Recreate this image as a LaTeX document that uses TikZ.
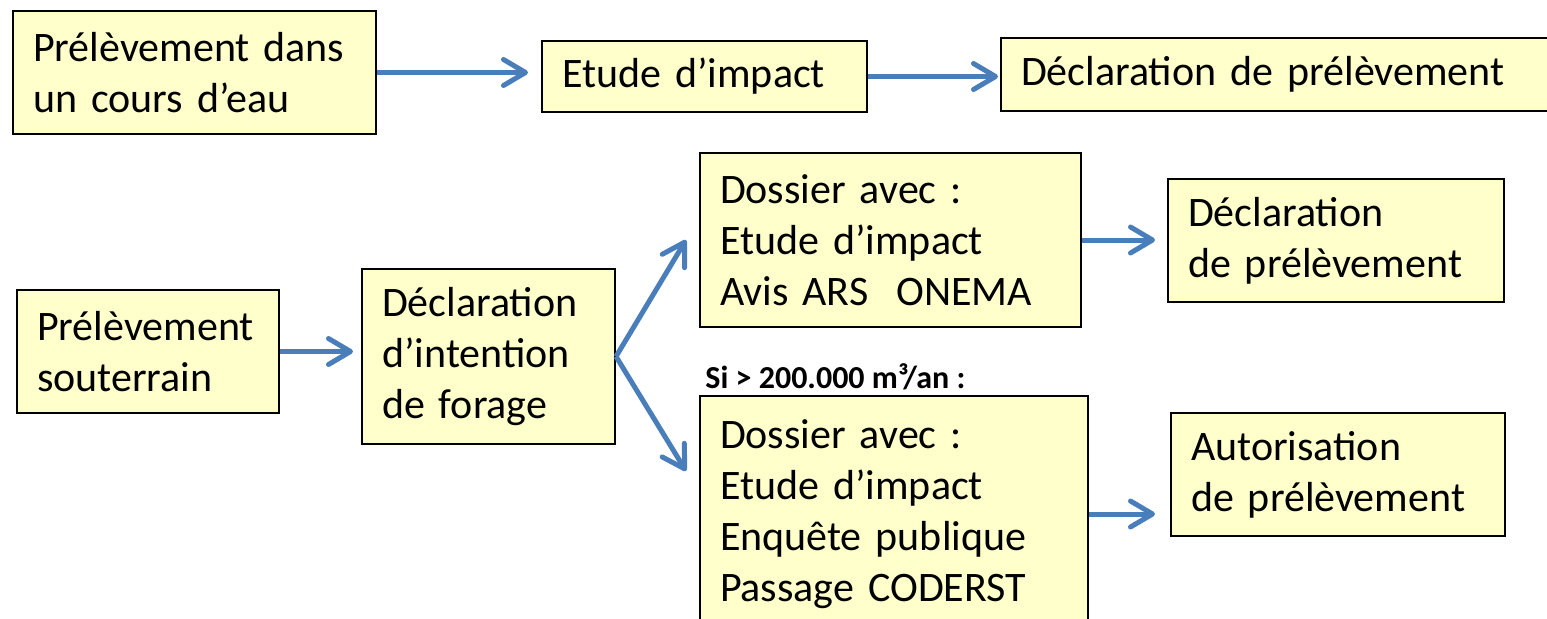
\documentclass[tikz,border=0pt]{standalone}
\usepackage{fontspec}
\setmainfont{Carlito}
\usetikzlibrary{arrows.meta}
\definecolor{boxfill}{HTML}{FFFFCC}
\definecolor{flowblue}{HTML}{4A7EBB}

\begin{document}
\begin{tikzpicture}[x=0.5pt,y=-0.5pt,
  box/.style={draw=black,line width=1pt,fill=boxfill,anchor=north west,
    inner xsep=10pt,inner ysep=0pt,align=left,font=\fontsize{21}{25.5}\selectfont},
  flow/.style={draw=flowblue,line width=2.5pt,-{Straight Barb[length=11pt,width=13pt,round]}}]
\clip (0,0) rectangle (1547,618);
% surface water
\node[box,text width=161.5pt,minimum height=61.5pt] (A) at (12,10) {Prélèvement dans\\un cours d’eau};
\node[box,text width=142.5pt,minimum height=35.5pt] (B) at (541,40) {Etude d’impact};
\node[box,text width=280pt,minimum height=36.5pt] (C) at (1000,37) {Déclaration de prélèvement};
% groundwater
\node[box,text width=111pt,minimum height=61.5pt] (F) at (16,289) {Prélèvement\\souterrain};
\node[box,text width=106.5pt,minimum height=87.5pt] (G) at (361,268) {Déclaration\\d’intention\\de forage};
\node[box,text width=170.5pt,minimum height=87pt] (D) at (699,152) {Dossier avec :\\Etude d’impact\\Avis ARS\ \ ONEMA};
\node[box,text width=148pt,minimum height=61.5pt] (E) at (1167,178) {Déclaration\\de prélèvement};
\node[font=\fontsize{16}{19}\selectfont\bfseries,anchor=base west,inner sep=0pt] (seuil) at (705,388) {Si > 200.000 m³/an :};
\node[box,text width=174pt,minimum height=118pt] (H) at (699,395) {Dossier avec :\\Etude d’impact\\Enquête publique\\Passage CODERST};
\node[box,text width=147pt,minimum height=61.5pt] (I) at (1170,412) {Autorisation\\de prélèvement};

\draw[flow] (A.east) -- ([xshift=-6.5pt]A.east -| B.west);
\draw[flow] (B.east) -- ([xshift=-1pt]B.east -| C.west);
\draw[flow] (F.east) -- ([xshift=-4pt]F.east -| G.west);
\draw[flow] (G.east) -- ([xshift=-6.5pt]D.west);
\draw[flow] (G.east) -- ([xshift=-6.5pt,yshift=21.5pt]H.west);
\draw[flow] (D.east) -- ([xshift=-6pt]D.east -| E.west);
\draw[flow] (H.east) -- ([xshift=-7.5pt]H.east -| I.west);
\end{tikzpicture}
\end{document}
